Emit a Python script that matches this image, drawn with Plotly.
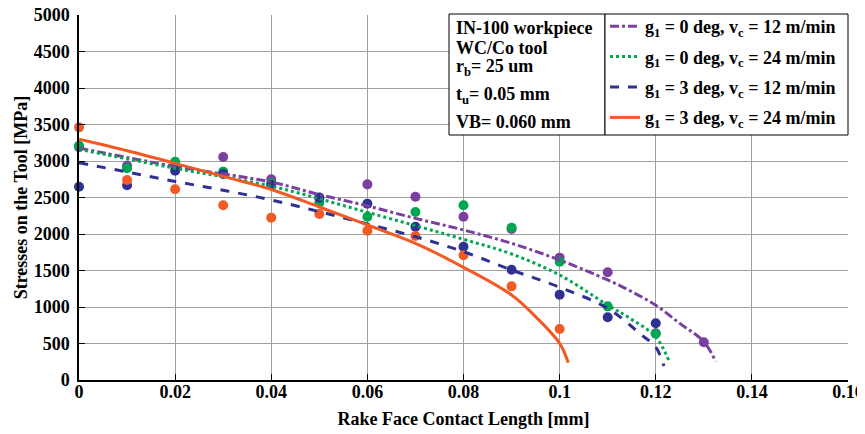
import plotly.graph_objects as go

# Measured points (x in mm, stress in MPa)
x_pts_g0_v12 = [0, 0.01, 0.02, 0.03, 0.04, 0.05, 0.06, 0.07, 0.08, 0.09, 0.10, 0.11, 0.12, 0.13]
p_g0_v12 = [3190, 2936, 2950, 3055, 2749, 2500, 2680, 2511, 2237, 2068, 1676, 1475, 640, 516]
x_pts_g0_v24 = [0, 0.01, 0.02, 0.03, 0.04, 0.05, 0.06, 0.07, 0.08, 0.09, 0.10, 0.11, 0.12]
p_g0_v24 = [3210, 2900, 2990, 2854, 2694, 2429, 2237, 2301, 2393, 2087, 1621, 1009, 634]
x_pts_g3_v12 = [0, 0.01, 0.02, 0.03, 0.04, 0.05, 0.06, 0.07, 0.08, 0.09, 0.10, 0.11, 0.12]
p_g3_v12 = [2648, 2667, 2867, 2822, 2671, 2498, 2416, 2100, 1826, 1511, 1169, 859, 777]
x_pts_g3_v24 = [0, 0.01, 0.02, 0.03, 0.04, 0.05, 0.06, 0.07, 0.08, 0.09, 0.10]
p_g3_v24 = [3461, 2740, 2612, 2393, 2224, 2274, 2045, 1973, 1708, 1283, 699]

# Fitted curves
cx_g0_v12 = [0, 0.02, 0.04, 0.05, 0.06, 0.07, 0.08, 0.09, 0.10, 0.11, 0.115, 0.12, 0.125, 0.13, 0.1325]
cy_g0_v12 = [3178, 2925, 2712, 2540, 2385, 2214, 2055, 1872, 1644, 1370, 1210, 1025, 775, 525, 251]
cx_g0_v24 = [0, 0.02, 0.04, 0.06, 0.08, 0.09, 0.10, 0.11, 0.115, 0.12, 0.1227]
cy_g0_v24 = [3160, 2900, 2655, 2297, 1927, 1726, 1438, 1027, 830, 590, 270]
cx_g3_v12 = [0, 0.01, 0.02, 0.03, 0.04, 0.05, 0.06, 0.07, 0.08, 0.09, 0.10, 0.11, 0.117, 0.12, 0.1217]
cy_g3_v12 = [2975, 2850, 2720, 2600, 2466, 2306, 2137, 1963, 1758, 1507, 1270, 982, 620, 450, 192]
cx_g3_v24 = [0, 0.01, 0.02, 0.03, 0.04, 0.05, 0.06, 0.07, 0.08, 0.09, 0.095, 0.10, 0.1018]
cy_g3_v24 = [3297, 3140, 2968, 2790, 2610, 2370, 2123, 1872, 1543, 1164, 868, 502, 237]

labels = [
    "g<sub>1</sub> = 0 deg, v<sub>c</sub> = 12 m/min",
    "g<sub>1</sub> = 0 deg, v<sub>c</sub> = 24 m/min",
    "g<sub>1</sub> = 3 deg, v<sub>c</sub> = 12 m/min",
    "g<sub>1</sub> = 3 deg, v<sub>c</sub> = 24 m/min",
]
info_lines = ["IN-100 workpiece", "WC/Co tool", "r<sub>b</sub>= 25 um", "t<sub>u</sub>= 0.05 mm", "VB= 0.060 mm"]
colors = ["#7B3FA0", "#00A651", "#2E3192", "#F15A24"]
dashes = ["dashdot", "dot", "dash", "solid"]

pts = [(x_pts_g0_v12, p_g0_v12), (x_pts_g0_v24, p_g0_v24), (x_pts_g3_v12, p_g3_v12), (x_pts_g3_v24, p_g3_v24)]
curves = [(cx_g0_v12, cy_g0_v12), (cx_g0_v24, cy_g0_v24), (cx_g3_v12, cy_g3_v12), (cx_g3_v24, cy_g3_v24)]

# page body has an 8px margin; layout is in screen pixels minus that offset
OFF = 8
W, H = 857, 426
L, T = 79 - OFF, 15 - OFF
R = W - (848 - OFF)
B = H - (380 - OFF)
pw, ph = W - L - R, H - T - B

def px_x(p):
    return (p - OFF - L) / pw

def px_y(p):
    return (H - B - (p - OFF)) / ph

fig = go.Figure()
for (px, py), c in zip(pts, colors):
    fig.add_trace(go.Scatter(x=px, y=py, mode="markers", showlegend=False,
                             marker=dict(color=c, size=10), cliponaxis=False))
for i, ((cx, cy), c, d, lab) in enumerate(zip(curves, colors, dashes, labels)):
    fig.add_trace(go.Scatter(x=cx, y=cy, mode="lines", name=lab, legendgroup=f"g{i}",
                             line=dict(color=c, dash=d, width=3, shape="spline")))

font_family = "Liberation Serif, Times New Roman, serif"

fig.update_layout(
    width=W, height=H,
    margin=dict(l=L, r=R, t=T, b=B, autoexpand=False),
    paper_bgcolor="white", plot_bgcolor="white",
    font=dict(family=font_family, size=18, color="black"),
    showlegend=True,
    legend=dict(x=px_x(605), y=px_y(8), xanchor="left", yanchor="top",
                borderwidth=0, bgcolor="rgba(0,0,0,0)",
                font=dict(family=font_family, size=18, color="black", weight="bold"),
                tracegroupgap=4, itemwidth=30),
    xaxis=dict(range=[0, 0.16], dtick=0.02, automargin=False,
               showgrid=True, gridcolor="#a0a0a0", gridwidth=1,
               showline=True, linecolor="black", linewidth=1.5,
               ticks="inside", ticklen=6, tickcolor="black",
               ticklabelstandoff=-5, ticklabeloverflow="allow",
               tickfont=dict(family=font_family, size=18, weight="bold"),
               title=dict(text="<b>Rake Face Contact Length [mm]</b>", font=dict(size=18), standoff=11),
               zeroline=False),
    yaxis=dict(range=[0, 5000], dtick=500, automargin=False,
               showgrid=True, gridcolor="#a0a0a0", gridwidth=1,
               showline=True, linecolor="black", linewidth=1.5,
               ticks="inside", ticklen=6, tickcolor="black",
               ticklabelstandoff=4, ticklabeloverflow="allow",
               tickfont=dict(family=font_family, size=18, weight="bold"),
               title=dict(text="<b>Stresses on the Tool [MPa]</b>", font=dict(size=18), standoff=1),
               zeroline=False),
)

# info box and legend frame
fig.add_shape(type="rect", xref="paper", yref="paper",
              x0=px_x(449), x1=px_x(605), y0=px_y(135), y1=px_y(14),
              line=dict(color="black", width=1), fillcolor="white", layer="above")
fig.add_shape(type="rect", xref="paper", yref="paper",
              x0=px_x(605), x1=px_x(848), y0=px_y(135), y1=px_y(14),
              line=dict(color="black", width=1), fillcolor="white", layer="above")
line_y = [28, 48, 68, 95, 122]
for txt, yy in zip(info_lines, line_y):
    fig.add_annotation(xref="paper", yref="paper", x=px_x(454), y=px_y(yy),
                       xanchor="left", yanchor="middle", text="<b>" + txt + "</b>",
                       showarrow=False, align="left",
                       font=dict(family=font_family, size=18, color="black"))

fig.write_html("out.html")
